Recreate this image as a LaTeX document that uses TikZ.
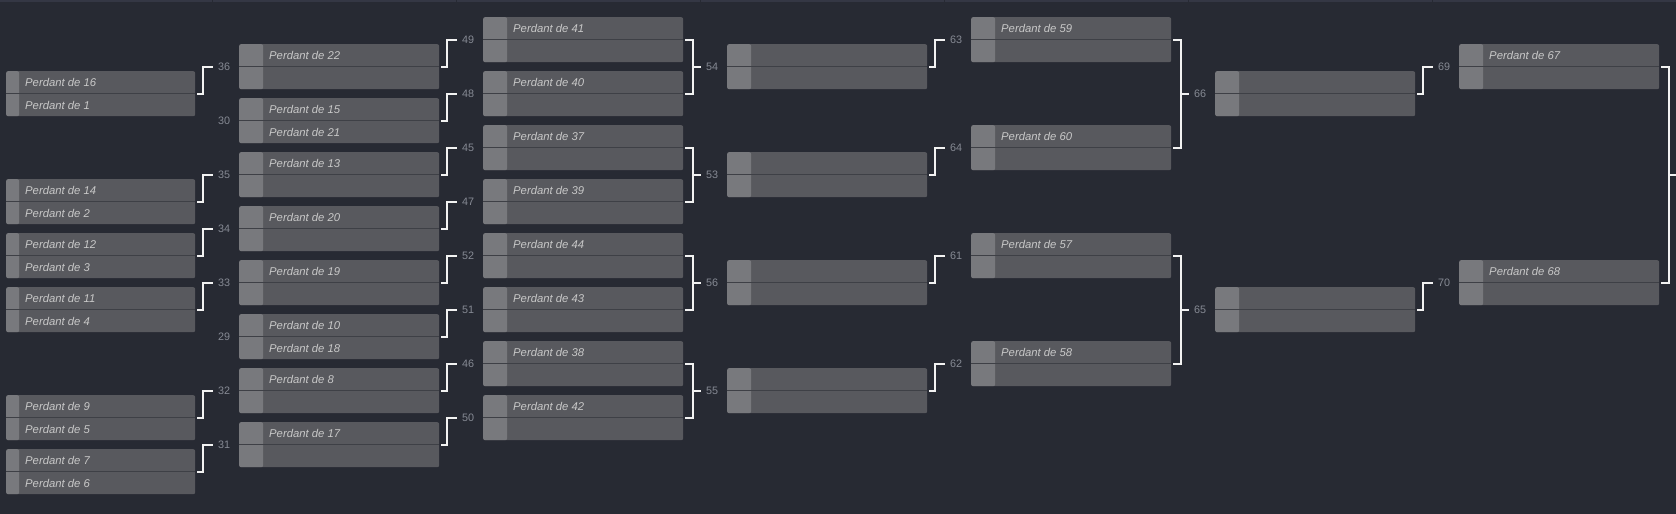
\documentclass[tikz,border=0pt]{standalone}
\usepackage{fontspec}
\setmainfont{Liberation Sans}
\definecolor{bg}{HTML}{272A33}
\definecolor{boxc}{HTML}{58595E}
\definecolor{stripc}{HTML}{78797D}
\definecolor{divc}{HTML}{3E4046}
\definecolor{txtc}{HTML}{C8C8C8}
\definecolor{lblc}{HTML}{868A94}
\definecolor{topc}{HTML}{343744}
\definecolor{connc}{HTML}{F2F2F2}
\tikzset{
  mbox/.style={fill=boxc, rounded corners=2pt, minimum height=45pt, inner sep=0pt, anchor=north west},
  ptext/.style={anchor=west, inner sep=0pt, text=txtc, font=\fontsize{11.3}{13}\selectfont\itshape},
  lbl/.style={anchor=west, inner sep=0pt, text=lblc, font=\fontsize{10.8}{13}\selectfont},
  conn/.style={draw=connc, line width=2pt},
}
% #1 name, #2 x, #3 y, #4 width, #5 strip width, #6 top text, #7 bottom text
\newcommand{\matchbox}[7]{%
  \node[mbox, minimum width=#4pt, path picture={
      \fill[stripc] (path picture bounding box.north west) rectangle ([xshift=#5pt]path picture bounding box.south west);
      \draw[divc, line width=1pt] (path picture bounding box.west) -- (path picture bounding box.east);}] (#1) at (#2,#3) {};
  \if\relax\detokenize{#6}\relax\else
    \node[ptext] (#1-t) at ([xshift=#5pt+6pt, yshift=-11.3pt]#1.north west) {#6};\fi
  \if\relax\detokenize{#7}\relax\else
    \node[ptext] (#1-b) at ([xshift=#5pt+6pt, yshift=11.3pt]#1.south west) {#7};\fi
}
\newcommand{\mlabel}[2]{\node[lbl] (#1-n) at ([xshift=-21pt]#1.west) {#2};}
\newcommand{\single}[2]{\draw[conn] ([xshift=2pt]#1.east) -- ++(6pt,0) |- ([xshift=-26pt]#2.west);}
\newcommand{\pairc}[3]{%
  \draw[conn] ([xshift=2pt]#1.east) -- ++(8pt,0) coordinate (#3-c) |- ([xshift=2pt]#2.east);
  \draw[conn] (#3-c |- #3.west) -- ([xshift=-26pt]#3.west);}
\begin{document}
\begin{tikzpicture}[x=1pt,y=-1pt]
\fill[bg] (0,0) rectangle (1676,514);
\useasboundingbox (0,0) rectangle (1676,514);
\fill[topc] (0,0) rectangle (1676,2.4);
\foreach \sx in {212,456,700,944,1188,1432} {\draw[bg, line width=1pt] (\sx,0) -- (\sx,2.4);}
% column 1
\matchbox{a0}{6}{71}{189}{13}{Perdant de 16}{Perdant de 1}
\matchbox{a2}{6}{179}{189}{13}{Perdant de 14}{Perdant de 2}
\matchbox{a3}{6}{233}{189}{13}{Perdant de 12}{Perdant de 3}
\matchbox{a4}{6}{287}{189}{13}{Perdant de 11}{Perdant de 4}
\matchbox{a6}{6}{395}{189}{13}{Perdant de 9}{Perdant de 5}
\matchbox{a7}{6}{449}{189}{13}{Perdant de 7}{Perdant de 6}
% column 2
\matchbox{b0}{239}{44}{200}{24}{Perdant de 22}{}
\matchbox{b1}{239}{98}{200}{24}{Perdant de 15}{Perdant de 21}
\matchbox{b2}{239}{152}{200}{24}{Perdant de 13}{}
\matchbox{b3}{239}{206}{200}{24}{Perdant de 20}{}
\matchbox{b4}{239}{260}{200}{24}{Perdant de 19}{}
\matchbox{b5}{239}{314}{200}{24}{Perdant de 10}{Perdant de 18}
\matchbox{b6}{239}{368}{200}{24}{Perdant de 8}{}
\matchbox{b7}{239}{422}{200}{24}{Perdant de 17}{}
\mlabel{b0}{36}\mlabel{b1}{30}\mlabel{b2}{35}\mlabel{b3}{34}
\mlabel{b4}{33}\mlabel{b5}{29}\mlabel{b6}{32}\mlabel{b7}{31}
% column 3
\matchbox{c0}{483}{17}{200}{24}{Perdant de 41}{}
\matchbox{c1}{483}{71}{200}{24}{Perdant de 40}{}
\matchbox{c2}{483}{125}{200}{24}{Perdant de 37}{}
\matchbox{c3}{483}{179}{200}{24}{Perdant de 39}{}
\matchbox{c4}{483}{233}{200}{24}{Perdant de 44}{}
\matchbox{c5}{483}{287}{200}{24}{Perdant de 43}{}
\matchbox{c6}{483}{341}{200}{24}{Perdant de 38}{}
\matchbox{c7}{483}{395}{200}{24}{Perdant de 42}{}
\mlabel{c0}{49}\mlabel{c1}{48}\mlabel{c2}{45}\mlabel{c3}{47}
\mlabel{c4}{52}\mlabel{c5}{51}\mlabel{c6}{46}\mlabel{c7}{50}
% column 4
\matchbox{d0}{727}{44}{200}{24}{}{}
\matchbox{d1}{727}{152}{200}{24}{}{}
\matchbox{d2}{727}{260}{200}{24}{}{}
\matchbox{d3}{727}{368}{200}{24}{}{}
\mlabel{d0}{54}\mlabel{d1}{53}\mlabel{d2}{56}\mlabel{d3}{55}
% column 5
\matchbox{e0}{971}{17}{200}{24}{Perdant de 59}{}
\matchbox{e1}{971}{125}{200}{24}{Perdant de 60}{}
\matchbox{e2}{971}{233}{200}{24}{Perdant de 57}{}
\matchbox{e3}{971}{341}{200}{24}{Perdant de 58}{}
\mlabel{e0}{63}\mlabel{e1}{64}\mlabel{e2}{61}\mlabel{e3}{62}
% column 6
\matchbox{f0}{1215}{71}{200}{24}{}{}
\matchbox{f1}{1215}{287}{200}{24}{}{}
\mlabel{f0}{66}\mlabel{f1}{65}
% column 7
\matchbox{g0}{1459}{44}{200}{24}{Perdant de 67}{}
\matchbox{g1}{1459}{260}{200}{24}{Perdant de 68}{}
\mlabel{g0}{69}\mlabel{g1}{70}
% connectors
\single{a0}{b0}\single{a2}{b2}\single{a3}{b3}\single{a4}{b4}\single{a6}{b6}\single{a7}{b7}
\single{b0}{c0}\single{b1}{c1}\single{b2}{c2}\single{b3}{c3}
\single{b4}{c4}\single{b5}{c5}\single{b6}{c6}\single{b7}{c7}
\pairc{c0}{c1}{d0}\pairc{c2}{c3}{d1}\pairc{c4}{c5}{d2}\pairc{c6}{c7}{d3}
\single{d0}{e0}\single{d1}{e1}\single{d2}{e2}\single{d3}{e3}
\pairc{e0}{e1}{f0}\pairc{e2}{e3}{f1}
\single{f0}{g0}\single{f1}{g1}
\coordinate (fin) at (1676,174.5);
\draw[conn] ([xshift=2pt]g0.east) -- ++(7.5pt,0) coordinate (fin-c) |- ([xshift=2pt]g1.east);
\draw[conn] (fin-c |- fin) -- (fin);
\end{tikzpicture}
\end{document}
